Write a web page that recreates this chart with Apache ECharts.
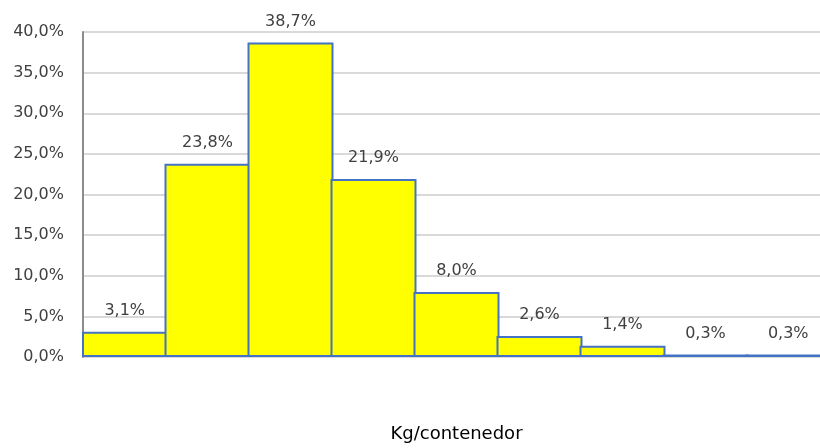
<!DOCTYPE html>
<html>
<head>
<meta charset="utf-8">
<script src="https://cdn.jsdelivr.net/npm/echarts@6/dist/echarts.min.js"></script>
<style>
  html, body { margin: 0; padding: 0; background: #fff; }
  #chart { width: 820px; height: 448px; }
</style>
</head>
<body>
<div id="chart"></div>
<script>
// clases de peso (sin etiqueta visible en el eje)
const categories = ['c1', 'c2', 'c3', 'c4', 'c5', 'c6', 'c7', 'c8', 'c9'];
const percents = [3.1, 23.8, 38.7, 21.9, 8.0, 2.6, 1.4, 0.3, 0.3];
const axisTitle = 'Kg/contenedor';

const fmt = (v, d) => v.toFixed(d).replace('.', ',') + '%';

const chart = echarts.init(document.getElementById('chart'));
chart.setOption({
  animation: false,
  grid: { left: 83, top: 32, bottom: 91, width: 747, outerBoundsMode: 'none', containLabel: false },
  xAxis: {
    type: 'category',
    data: categories,
    name: axisTitle,
    nameLocation: 'middle',
    nameGap: 68,
    nameTextStyle: { fontFamily: 'DejaVu Sans', fontSize: 18, color: '#000' },
    axisLine: { show: false },
    axisTick: { show: false },
    axisLabel: { show: false }
  },
  yAxis: {
    type: 'value',
    min: 0,
    max: 40,
    interval: 5,
    axisLine: { show: true, lineStyle: { color: '#8c8c8c', width: 2 } },
    axisTick: { show: false },
    axisLabel: {
      formatter: v => fmt(v, 1),
      fontFamily: 'DejaVu Sans',
      fontSize: 16,
      color: '#404040',
      margin: 19
    },
    splitLine: { lineStyle: { color: '#d9d9d9', width: 2 } }
  },
  series: [{
    type: 'bar',
    data: percents,
    barWidth: 86,
    itemStyle: { color: '#ffff00', borderColor: '#4472c4', borderWidth: 2 },
    label: {
      show: true,
      position: 'top',
      distance: 13,
      formatter: p => fmt(p.value, 1),
      fontFamily: 'DejaVu Sans',
      fontSize: 16,
      color: '#404040'
    }
  }]
});
</script>
</body>
</html>
